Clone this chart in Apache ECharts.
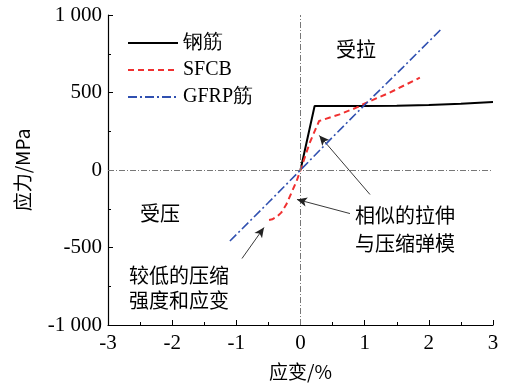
<!DOCTYPE html>
<html><head><meta charset="utf-8">
<script src="https://cdn.jsdelivr.net/npm/echarts@6/dist/echarts.min.js"></script>
<style>html,body{margin:0;padding:0;background:#fff}#c{width:511px;height:390px}</style>
</head><body><div id="c"></div>
<script>
// ---- data ----
const steelData = [[0,0],[0.22,413],[1.0,413],[1.5,415],[2.0,419],[2.5,428],[3.0,439]];
const sfcbData = [[-0.49,-322],[-0.44,-318],[-0.37,-301],[-0.30,-275],[-0.22,-221],[-0.14,-146],[-0.06,-71],[0,0],[0.145,177],[0.29,316],[0.61,359],[0.87,402],[1.03,435],[1.39,499],[1.86,596]];
const gfrpData = [[-1.10,-458],[-0.5,-210],[0,0],[0.5,212],[1.03,432],[1.6,664],[2.20,912]];
const seriesNames = ['钢筋','SFCB','GFRP筋'];
const xTicks = [-3,-2,-1,0,1,2,3];
const yTicks = [-1000,-500,0,500,1000];
const yTickLabels = {'-1000':'-1 000','-500':'-500','0':'0','500':'500','1000':'1 000'};
const xTitle = '应变/%';
const yTitle = '应力/MPa';
// annotation arrows: [tail, head] in data coordinates
const arrows = [
  [[1.083,-158],[0.293,223]],
  [[0.771,-281],[-0.055,-190]],
  [[-0.912,-571],[-0.569,-371]]
];
const notes = [
  {text:'受拉', x:356, y:50, align:'center'},
  {text:'受压', x:160, y:214, align:'center'},
  {text:'相似的拉伸', x:355, y:216, align:'left'},
  {text:'与压缩弹模', x:355, y:244, align:'left'},
  {text:'较低的压缩', x:129, y:276, align:'left'},
  {text:'强度和应变', x:129, y:301, align:'left'}
];
// ---- chart ----
const chart = echarts.init(document.getElementById('c'), null, {renderer:'canvas'});
const serif = 'Liberation Serif';
const cjk = 'Noto Sans CJK SC';
const axisCommon = {
  axisLine:{show:true,onZero:false,lineStyle:{color:'#000',width:1.2}},
  axisTick:{show:true,inside:true,length:5,lineStyle:{color:'#000'}},
  minorTick:{show:true,splitNumber:2,length:3,lineStyle:{color:'#000'}},
  splitLine:{show:false},
  axisLabel:{color:'#000',fontFamily:serif,fontSize:21},
  nameTextStyle:{color:'#000',fontFamily:cjk,fontSize:19}
};
chart.setOption({
  animation:false,
  grid:{left:108,right:18,top:15,bottom:65},
  legend:{
    data:seriesNames, orient:'vertical', left:122, top:28, padding:5,
    itemWidth:50, itemHeight:14, itemGap:7,
    itemStyle:{opacity:0},
    textStyle:{color:'#000',fontFamily:serif,fontSize:20}
  },
  xAxis:Object.assign({}, axisCommon, {
    type:'value', min:xTicks[0], max:xTicks[xTicks.length-1], interval:1,
    name:xTitle, nameLocation:'middle', nameGap:37,
    axisLabel:Object.assign({}, axisCommon.axisLabel,{margin:8})
  }),
  yAxis:Object.assign({}, axisCommon, {
    type:'value', min:yTicks[0], max:yTicks[yTicks.length-1], interval:500,
    name:yTitle, nameLocation:'middle', nameGap:76, nameRotate:90,
    axisLabel:Object.assign({}, axisCommon.axisLabel,{margin:6,formatter:v=>yTickLabels[String(v)]||String(v)})
  }),
  series:[
    {name:seriesNames[0], type:'line', data:steelData, symbol:'none', z:3,
     lineStyle:{color:'#000',width:2}, itemStyle:{color:'#000'},
     markLine:{silent:true, symbol:['none','none'], label:{show:false},
       lineStyle:{color:'#777',width:1,type:[6,2,1,2]},
       data:[{xAxis:0},{yAxis:0}]}},
    {name:seriesNames[1], type:'line', data:sfcbData, symbol:'none', z:4,
     lineStyle:{color:'#f03030',width:2,type:[6,4]}, itemStyle:{color:'#f03030'}},
    {name:seriesNames[2], type:'line', data:gfrpData, symbol:'none', z:5,
     lineStyle:{color:'#3050b0',width:1.6,type:[9,3,2,3]}, itemStyle:{color:'#3050b0'},
     markLine:{silent:true, symbol:['none','arrow'], symbolSize:[7,10], label:{show:false},
       lineStyle:{color:'#222',width:0.9,type:'solid'},
       data:arrows.map(a=>[{coord:a[0]},{coord:a[1]}])}}
  ],
  graphic: notes.map(n=>({type:'text', left:n.align==='left'?n.x:n.x-20, top:n.y-11,
    style:{text:n.text, fill:'#000', font:'20px "'+cjk+'"'}}))
});
</script></body></html>
